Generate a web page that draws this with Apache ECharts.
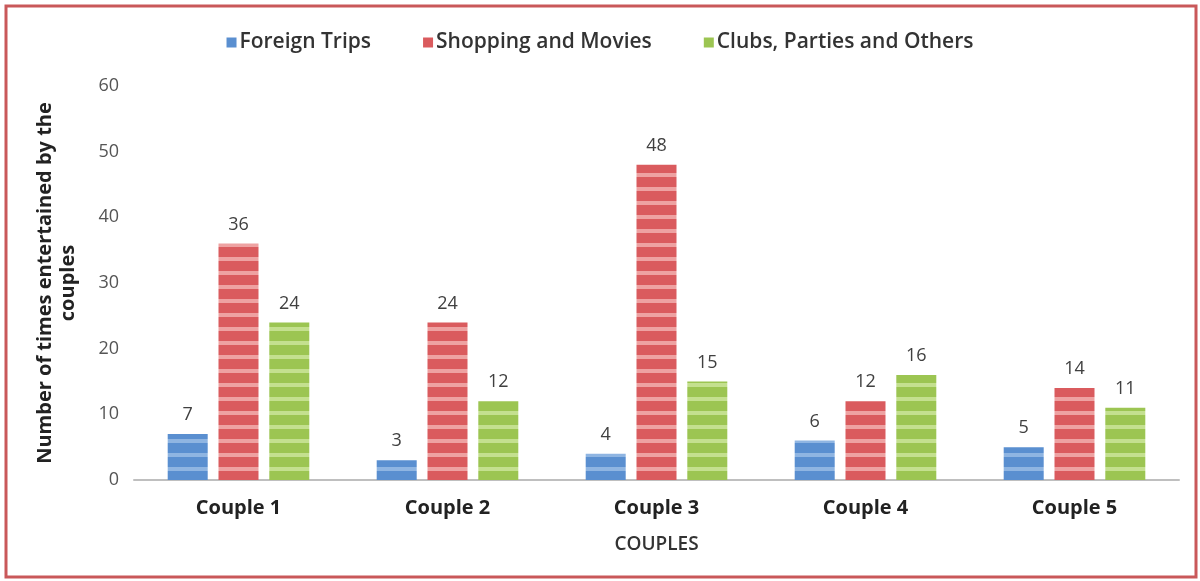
<!DOCTYPE html>
<html>
<head>
<meta charset="utf-8">
<script src="https://cdn.jsdelivr.net/npm/echarts@6/dist/echarts.min.js"></script>
<style>
html,body{margin:0;padding:0;background:#fff;}
#c{width:1200px;height:581px;}
</style>
</head>
<body>
<div id="c"></div>
<script>
var categories = ['Couple 1', 'Couple 2', 'Couple 3', 'Couple 4', 'Couple 5'];
var foreignTrips = [7, 3, 4, 6, 5];
var shoppingMovies = [36, 24, 48, 12, 14];
var clubsParties = [24, 12, 15, 16, 11];
var seriesNames = ['Foreign Trips', 'Shopping and Movies', 'Clubs, Parties and Others'];

function stripe(base, light) {
  var cv = document.createElement('canvas');
  cv.width = 4; cv.height = 14;
  var ctx = cv.getContext('2d');
  ctx.fillStyle = base; ctx.fillRect(0, 0, 4, 14);
  ctx.fillStyle = light; ctx.fillRect(0, 5, 4, 4);
  return { image: cv, repeat: 'repeat' };
}
var colors = ['#5a8fd0', '#da5b5e', '#9cc552'];
var fills = [stripe('#5a8fd0', '#8fb5e2'), stripe('#da5b5e', '#eea2a2'), stripe('#9cc552', '#c4e08f')];

var chart = echarts.init(document.getElementById('c'));
var font = "'Open Sans', sans-serif";
function mk(i, data) {
  return {
    name: seriesNames[i], type: 'bar', data: data,
    barWidth: 40, barGap: '27%',
    itemStyle: { color: fills[i] },
    label: { show: true, position: 'top', distance: 10, color: '#404040', fontSize: 18, fontFamily: font }
  };
}
chart.setOption({
  animation: false,
  color: colors,
  graphic: [{
    type: 'rect', silent: true,
    shape: { x: 6, y: 6, width: 1190, height: 571 },
    style: { fill: null, stroke: '#c9585a', lineWidth: 3 }
  }],
  legend: {
    top: 27, left: 'center',
    itemWidth: 10, itemHeight: 10, itemGap: 52,
    icon: 'rect',
    data: seriesNames.map(function (n, i) { return { name: n, itemStyle: { color: colors[i] } }; }),
    textStyle: { fontSize: 21, color: '#333', fontWeight: 600, fontFamily: font, padding: [0, 0, 0, -2] }
  },
  grid: { left: 134, right: 21, top: 86, bottom: 101, containLabel: false },
  xAxis: {
    type: 'category', data: categories,
    name: 'COUPLES', nameLocation: 'middle', nameGap: 55,
    nameTextStyle: { fontSize: 19, color: '#333', fontWeight: 600, fontFamily: font },
    axisLine: { lineStyle: { color: '#bfbfbf', width: 2 } },
    axisTick: { show: false },
    axisLabel: { fontSize: 20, color: '#222', fontWeight: 'bold', margin: 18, fontFamily: font }
  },
  yAxis: {
    type: 'value', min: 0, max: 60, interval: 10,
    name: 'Number of times entertained by the\ncouples', nameLocation: 'middle', nameGap: 54,
    nameTextStyle: { fontSize: 20, color: '#222', fontWeight: 'bold', fontFamily: font, lineHeight: 23 },
    axisLine: { show: false }, axisTick: { show: false },
    splitLine: { show: false },
    axisLabel: { fontSize: 18, color: '#555', margin: 15, fontFamily: font }
  },
  series: [mk(0, foreignTrips), mk(1, shoppingMovies), mk(2, clubsParties)]
});
</script>
</body>
</html>
